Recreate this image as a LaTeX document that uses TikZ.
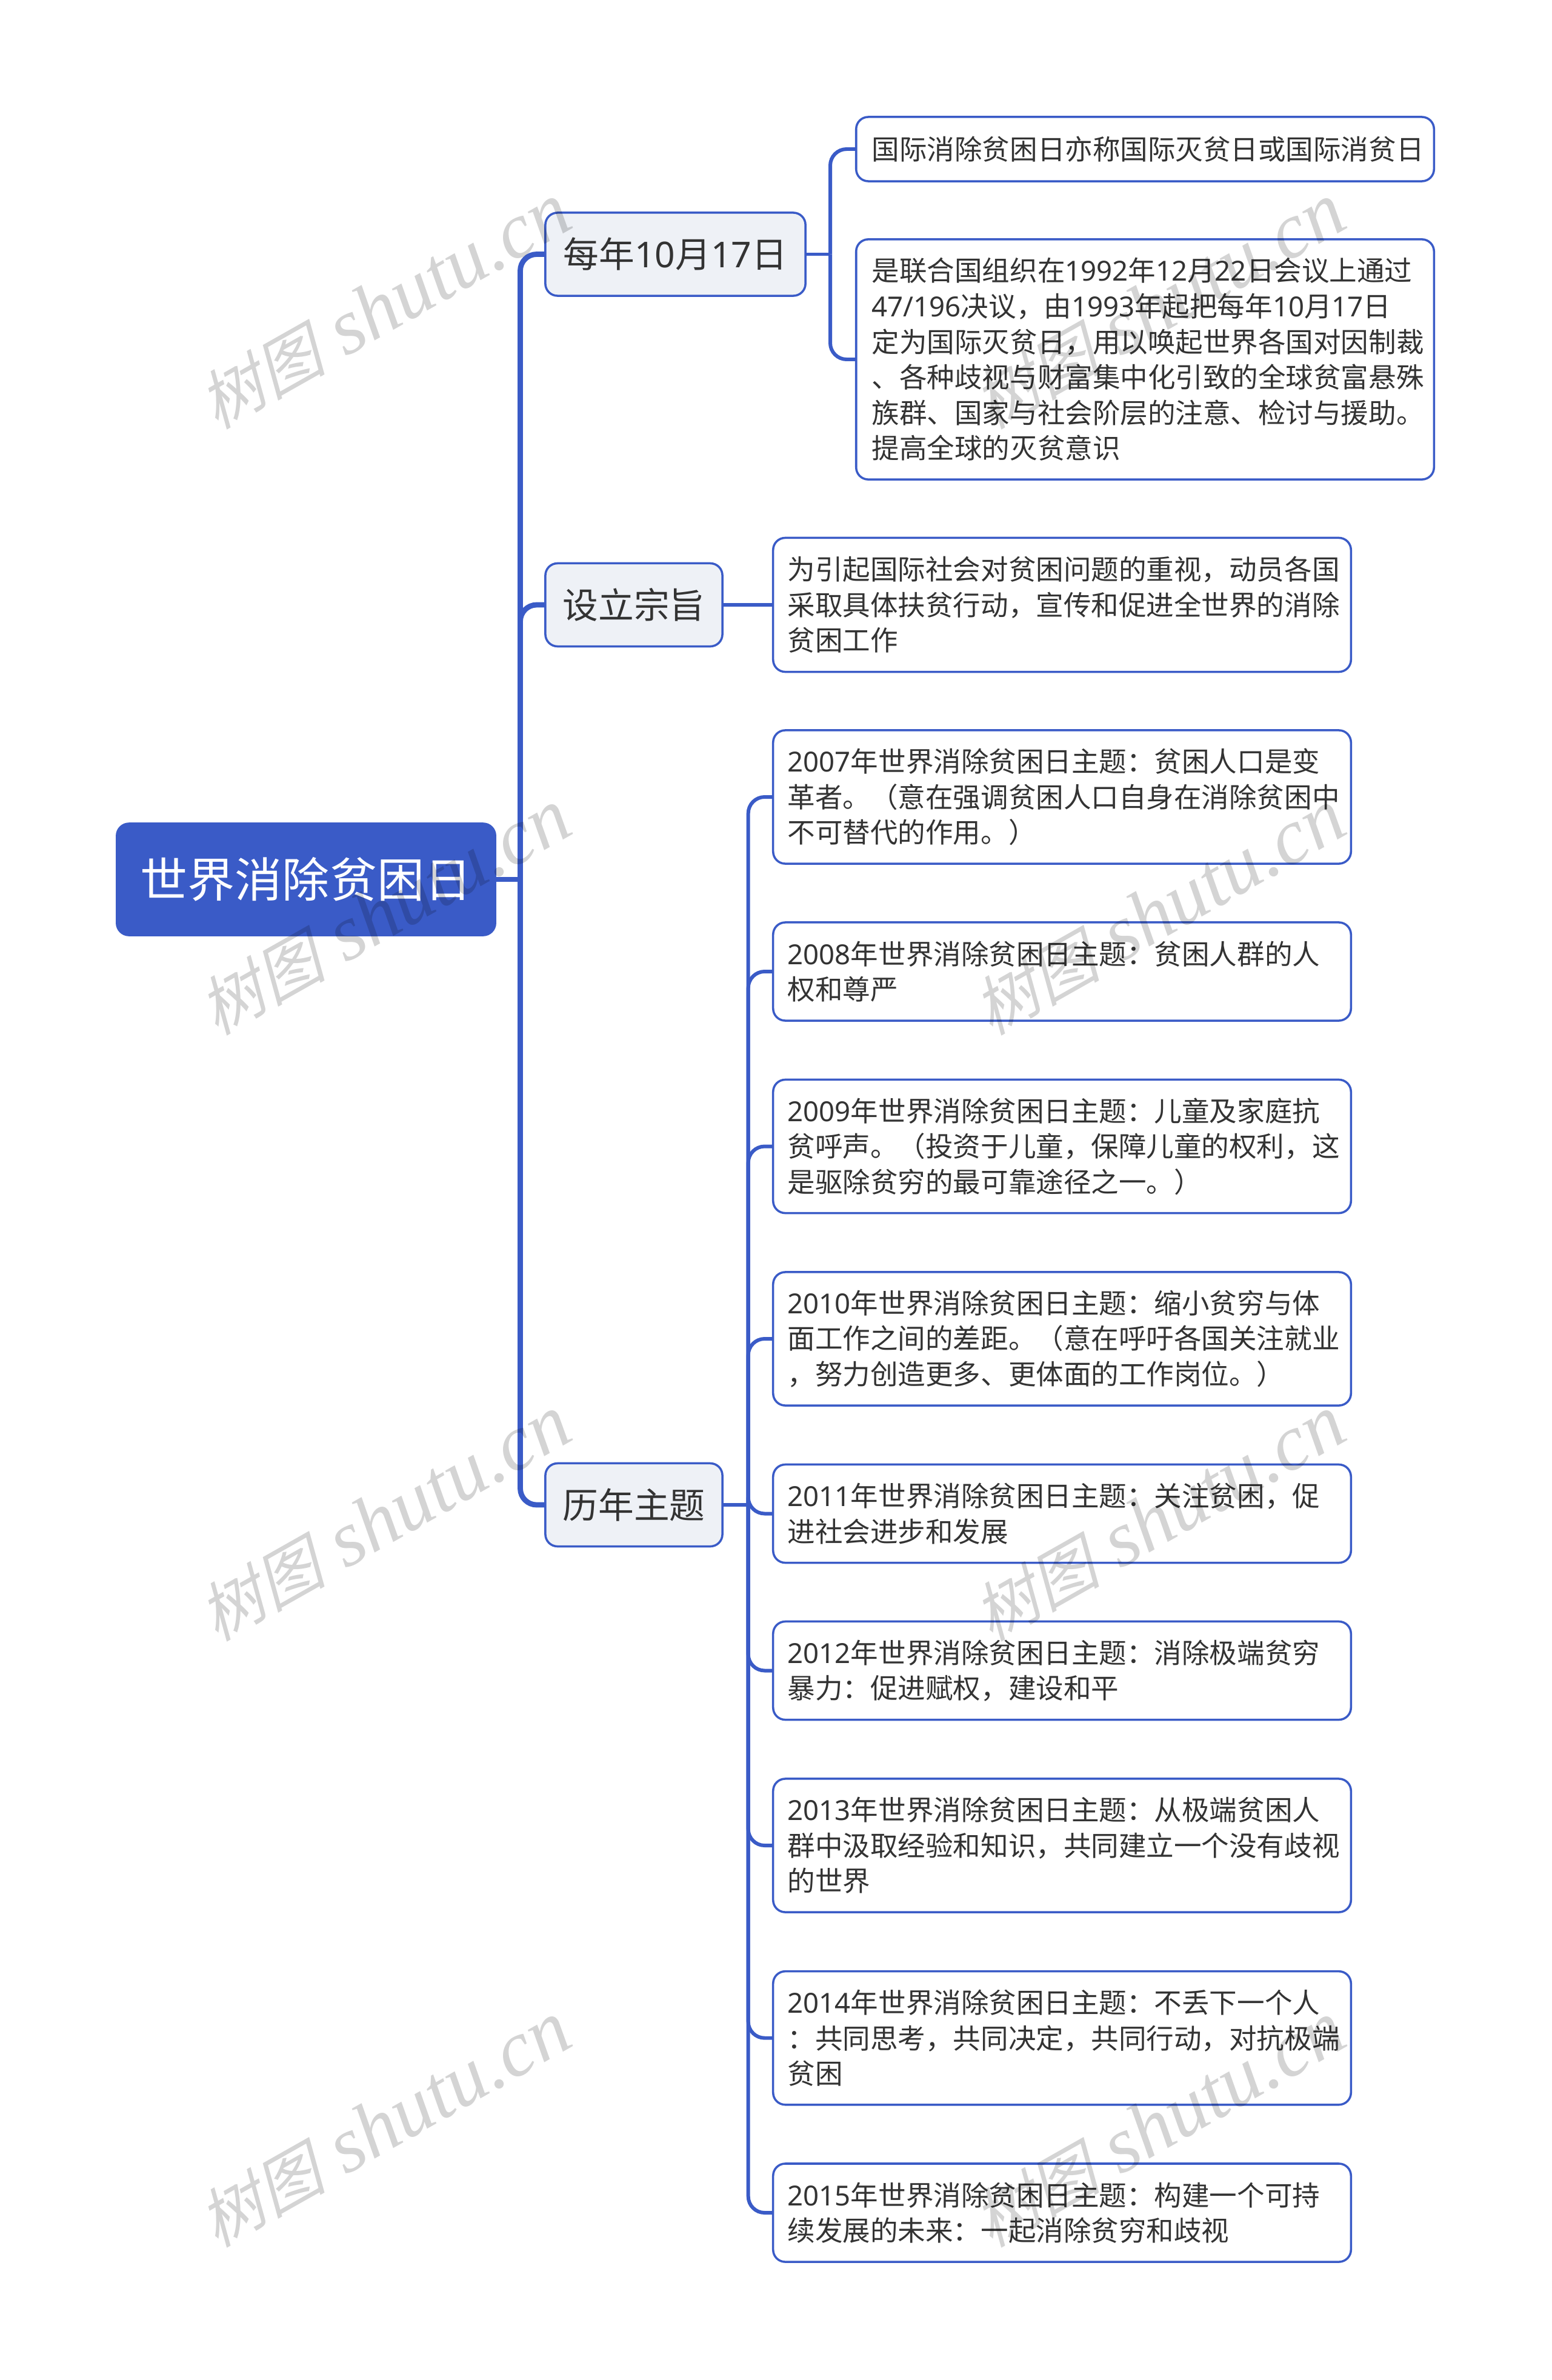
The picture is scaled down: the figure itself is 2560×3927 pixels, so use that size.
\documentclass[tikz,border=0pt]{standalone}
\usepackage{fontspec}
\setmainfont{Noto Sans CJK SC}
\newfontfamily\wmcjk[FakeSlant=0.25]{Noto Sans CJK SC}
\newfontfamily\wmlat{Liberation Serif}
\newfontfamily\dgtfont{Noto Sans}
\newcommand{\dg}[1]{{\dgtfont #1}}
\definecolor{brandblue}{HTML}{3A5BC7}
\definecolor{lonefill}{HTML}{EEF1F6}
\definecolor{inkgray}{HTML}{333333}
\tikzset{
  x=0.01cm,y=-0.01cm,
  boxbase/.style={draw=brandblue,line width=1pt,rounded corners=0.2cm,text=inkgray,inner ysep=0pt},
  rootbox/.style={boxbase,fill=brandblue,text=white,minimum width=6.24cm,minimum height=1.84cm,inner xsep=0pt,font=\fontsize{22.2}{26}\selectfont},
  lonebox/.style={boxbase,fill=lonefill,minimum height=1.37cm,inner xsep=0pt,font=\fontsize{16.7}{20}\selectfont},
  leafbox/.style={boxbase,fill=white,minimum width=9.53cm,text width=9.05cm,inner xsep=0.24cm,align=left,font=\fontsize{12.95}{16.64}\selectfont},
  leafwide/.style={leafbox,text width=9.01cm,inner xsep=0.26cm},
  trunk/.style={draw=brandblue,line width=2.5pt,rounded corners=0.27cm},
  branch/.style={draw=brandblue,line width=1.7pt,rounded corners=0.27cm},
  wmark/.style={rotate=29.5,text=black,opacity=0.17,inner sep=0pt}
}
\begin{document}
\begin{tikzpicture}
\useasboundingbox (0,0) rectangle (2560,3927);
\fill[white] (0,0) rectangle (2560,3927);
% root and first level
\node[rootbox] (root) at (505,1451) {世界消除贫困日};
\node[lonebox,minimum width=4.29cm] (a) at (1114.5,419.5) {每年\dg{10}月\dg{17}日};
\node[lonebox,minimum width=2.92cm] (b) at (1046,998) {设立宗旨};
\node[lonebox,minimum width=2.92cm] (c) at (1046,2483) {历年主题};
% leaves
\node[leafwide,minimum height=1.06cm] (a1) at (1889.5,246) {国际消除贫困日亦称国际灭贫日或国际消贫日};
\node[leafwide,minimum height=3.96cm] (a2) at (1889.5,593) {是联合国组织在\dg{1992}年\dg{12}月\dg{22}日会议上通过\\\dg{47/196}决议，由\dg{1993}年起把每年\dg{10}月\dg{17}日\\定为国际灭贫日，用以唤起世界各国对因制裁\\、各种歧视与财富集中化引致的全球贫富悬殊\\族群、国家与社会阶层的注意、检讨与援助。\\提高全球的灭贫意识};
\node[leafbox,minimum height=2.21cm] (b1) at (1752.5,998) {为引起国际社会对贫困问题的重视，动员各国\\采取具体扶贫行动，宣传和促进全世界的消除\\贫困工作};
\node[leafbox,minimum height=2.2cm] (c1) at (1752.5,1315) {\dg{2007}年世界消除贫困日主题：贫困人口是变\\革者。（意在强调贫困人口自身在消除贫困中\\不可替代的作用。）};
\node[leafbox,minimum height=1.62cm] (c2) at (1752.5,1603) {\dg{2008}年世界消除贫困日主题：贫困人群的人\\权和尊严};
\node[leafbox,minimum height=2.2cm] (c3) at (1752.5,1891.5) {\dg{2009}年世界消除贫困日主题：儿童及家庭抗\\贫呼声。（投资于儿童，保障儿童的权利，这\\是驱除贫穷的最可靠途径之一。）};
\node[leafbox,minimum height=2.2cm] (c4) at (1752.5,2209) {\dg{2010}年世界消除贫困日主题：缩小贫穷与体\\面工作之间的差距。（意在呼吁各国关注就业\\，努力创造更多、更体面的工作岗位。）};
\node[leafbox,minimum height=1.62cm] (c5) at (1752.5,2497.5) {\dg{2011}年世界消除贫困日主题：关注贫困，促\\进社会进步和发展};
\node[leafbox,minimum height=1.62cm] (c6) at (1752.5,2756.5) {\dg{2012}年世界消除贫困日主题：消除极端贫穷\\暴力：促进赋权，建设和平};
\node[leafbox,minimum height=2.2cm] (c7) at (1752.5,3045) {\dg{2013}年世界消除贫困日主题：从极端贫困人\\群中汲取经验和知识，共同建立一个没有歧视\\的世界};
\node[leafbox,minimum height=2.2cm] (c8) at (1752.5,3362.7) {\dg{2014}年世界消除贫困日主题：不丢下一个人\\：共同思考，共同决定，共同行动，对抗极端\\贫困};
\node[leafbox,minimum height=1.62cm] (c9) at (1752.5,3651) {\dg{2015}年世界消除贫困日主题：构建一个可持\\续发展的未来：一起消除贫穷和歧视};
% connectors
\coordinate (t) at (858.5,1451);
\coordinate (ta) at (1370,419.5);
\coordinate (tc) at (1234.7,2483);
\draw[trunk,rounded corners=0pt] (root.east) -- (t);
\draw[trunk] (t) |- (a.west);
\draw[trunk] (t) |- (b.west);
\draw[trunk] (t) |- (c.west);
\draw[branch,rounded corners=0pt] (a.east) -- (ta);
\draw[branch] (ta) |- (a1.west);
\draw[branch] (ta) |- (a2.west);
\draw[branch] (b.east) -- (b1.west);
\draw[branch,rounded corners=0pt] (c.east) -- (tc);
\foreach \k in {1,...,9}{\draw[branch] (tc) |- (c\k.west);}
% watermarks
\foreach \col/\wx in {0/634,1/1912}{
  \foreach \row/\wy in {0/506,1/1506,2/2506,3/3506}{
    \node[wmark] (wm\col\row) at (\wx,\wy) {{\wmcjk\fontsize{30}{30}\selectfont 树图}\hspace{0.33cm}{\wmlat\itshape\fontsize{37}{37}\selectfont shutu.cn}};
  }
}
\end{tikzpicture}
\end{document}
